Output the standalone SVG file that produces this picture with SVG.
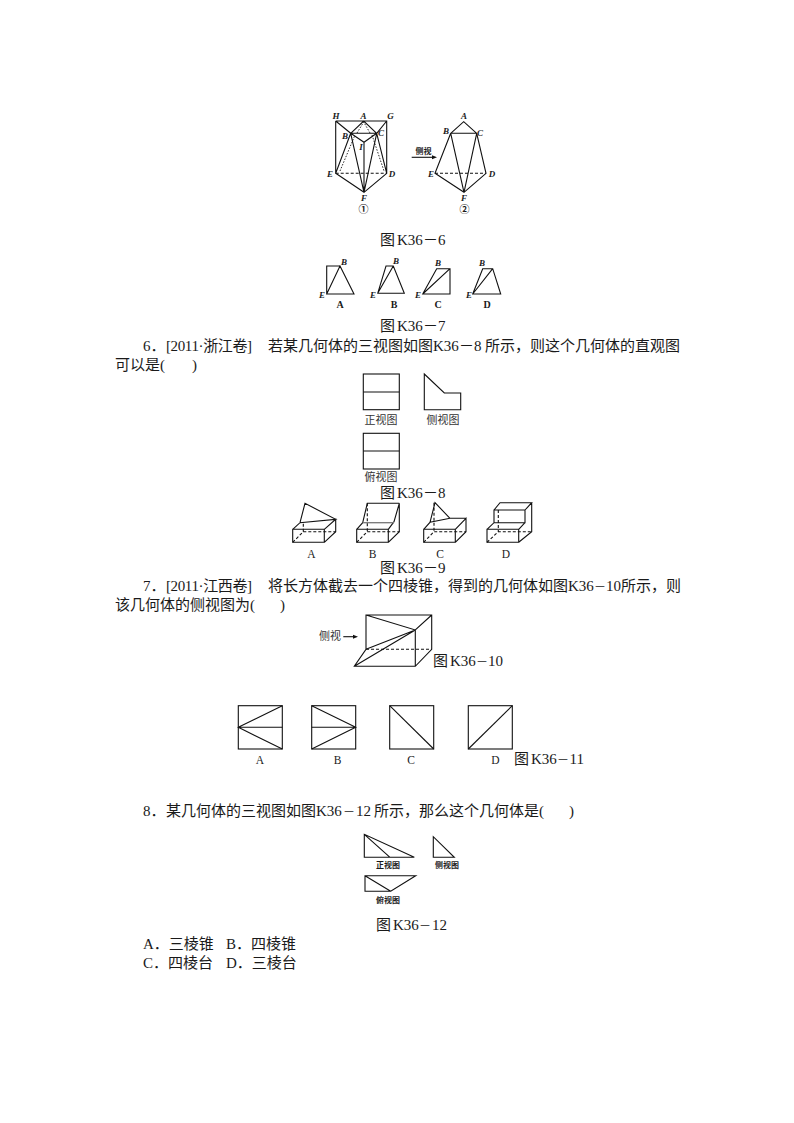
<svg xmlns="http://www.w3.org/2000/svg" width="794" height="1123" viewBox="0 0 794 1123">
<style>
text{font-family:"Liberation Serif","Noto Sans CJK SC",serif;fill:#1a1a1a}
.t{font-size:15px}
.m{font-size:12px}
.c{font-size:11px;fill:#333}
.s{font-size:9px;font-weight:bold;font-style:italic}
.b{font-size:8px;font-weight:bold}
.g{font-size:10px;font-weight:bold}
.l{font-size:11.5px}
path,line,rect,polygon{fill:none;stroke:#111;stroke-width:1.1}
.d{stroke-dasharray:3 2}
.o{stroke-dasharray:1.5 1.5;stroke-width:.9}
.h{stroke:#777;stroke-width:1.3}
.a{fill:#111;stroke:none}
</style>
<g id="fig-k36-6">
<path d="M335.7 121H386.7V173.3M335.7 173.3V121M335.7 121L350.7 133.3M386.7 121L376.7 133.3M350.7 133.3H376.7M350.7 133.3L364 142.3L376.7 133.3M364 142.3V192.3M350.7 133.3L364 192.3L376.7 133.3M350.7 133.3L335.7 173.3L364 192.3L386.7 173.3L376.7 133.3M350.7 133.3L363.7 121L376.7 133.3"/>
<path class="o" d="M357 133L363.7 122L370 133M372 135L384 171M340 171L355 135"/>
<path class="d" d="M335.7 173.3H386.7"/>
<path d="M450.7 133.3L463.7 121.7L476.7 133.3M450.7 133.3H476.7M450.7 133.3L435 173.3L464 192.3L486 173.3L476.7 133.3M450.7 133.3L464 192.3L476.7 133.3"/>
<path class="d" d="M435 173.3H486"/>
<path d="M411.7 157.3H433"/><polygon class="a" points="437,157.3 432,155.3 432,159.3"/>
<text class="s" x="336" y="119" text-anchor="middle">H</text><text class="s" x="363.5" y="119" text-anchor="middle">A</text><text class="s" x="390.5" y="119" text-anchor="middle">G</text>
<text class="s" x="345" y="139" text-anchor="middle">B</text><text class="s" x="381" y="136" text-anchor="middle">C</text><text class="s" x="361" y="150" text-anchor="middle">I</text>
<text class="s" x="330" y="177" text-anchor="middle">E</text><text class="s" x="392" y="177" text-anchor="middle">D</text><text class="s" x="364" y="201" text-anchor="middle">F</text>
<text class="g" x="363.5" y="213" text-anchor="middle">①</text>
<text class="s" x="464" y="119" text-anchor="middle">A</text><text class="s" x="446" y="134" text-anchor="middle">B</text><text class="s" x="480" y="136" text-anchor="middle">C</text>
<text class="s" x="431" y="177" text-anchor="middle">E</text><text class="s" x="492" y="177" text-anchor="middle">D</text><text class="s" x="464" y="201" text-anchor="middle">F</text>
<text class="g" x="464.5" y="213" text-anchor="middle">②</text>
<text class="b" x="423.5" y="154" text-anchor="middle">侧视</text>
<text class="t" x="380" y="245">图<tspan x="397">K36</tspan><tspan x="423">－</tspan><tspan x="438">6</tspan></text>
</g>
<g id="fig-k36-7">
<path d="M326.7 294V266H340M326.7 294L340 266L354 294ZM377.7 293.3L386 266H393.3L404.3 293.3ZM377.7 293.3L393.3 266M422.7 294L436.7 268.7H450V294ZM422.7 294L450 268.7M472.7 294L482.7 268.7H492.7L500.7 294ZM472.7 294L492.7 268.7"/>
<text class="s" x="341" y="265">B</text><text class="s" x="322" y="298" text-anchor="middle">E</text><text class="g" x="340" y="308" text-anchor="middle">A</text>
<text class="s" x="393" y="264">B</text><text class="s" x="373" y="298" text-anchor="middle">E</text><text class="g" x="394" y="308" text-anchor="middle">B</text>
<text class="s" x="438" y="266" text-anchor="middle">B</text><text class="s" x="418" y="298" text-anchor="middle">E</text><text class="g" x="438" y="308" text-anchor="middle">C</text>
<text class="s" x="479" y="266">B</text><text class="s" x="469" y="298" text-anchor="middle">E</text><text class="g" x="487" y="308" text-anchor="middle">D</text>
<text class="t" x="380" y="331">图<tspan x="397">K36</tspan><tspan x="423">－</tspan><tspan x="438">7</tspan></text>
</g>
<g id="question-6">
<text class="t" x="143" y="351">6．<tspan x="166" textLength="86" lengthAdjust="spacing">[2011·浙江卷]</tspan><tspan x="268">若某几何体的三视图如图</tspan><tspan x="433">K36</tspan><tspan x="459">－</tspan><tspan x="474">8</tspan><tspan x="485">所示，则这个几何体的直观图</tspan></text>
<text class="t" x="115" y="370">可以是(<tspan x="192">)</tspan></text>
</g>
<g id="fig-k36-8">
<rect x="363.3" y="374" width="36" height="35.7"/><line x1="363.3" y1="392" x2="399.3" y2="392"/>
<path d="M424.3 374L444.3 393H460.7V409.7H424.3Z"/>
<rect x="363.3" y="433.3" width="36" height="35.7"/><line x1="363.3" y1="451" x2="399.3" y2="451"/>
<text class="c" x="381" y="424" text-anchor="middle">正视图</text>
<text class="c" x="443" y="424" text-anchor="middle">侧视图</text>
<text class="c" x="381" y="481" text-anchor="middle">俯视图</text>
<text class="t" x="380" y="498">图<tspan x="397">K36</tspan><tspan x="423">－</tspan><tspan x="438">8</tspan></text>
</g>
<g id="fig-k36-9">
<path d="M292.7 529.3H324.3V542.3H292.7ZM324.3 529.3L335.7 519.3V531.7L324.3 542.3M292.7 529.3L300 522.7L335.7 519.3L305 503.3L300 522.7"/>
<path class="d" d="M292.7 542.3L303.3 531.7H335.7M303.3 531.7V522"/>
<path d="M356.7 529.3H388.3V542.3H356.7ZM388.3 542.3L399.3 531.7V503.3L394 521.7L388.3 529.3M356.7 529.3L362.7 522.7L367.3 503.3H399.3"/>
<path class="h" d="M362.7 522.7H394"/>
<path class="d" d="M356.7 542.3L367.3 531.7H399.3M367.3 503.3V531.7"/>
<path d="M423.7 529.3H455.3V542.3H423.7ZM455.3 529.3L466 518.3V531.7L455.3 542.3M423.7 529.3L430 522.3L450 518.3H466M430 522.3L435 502.7L450 518.3"/>
<path class="d" d="M423.7 542.3L434 531.7H466M434 502.7V531.7"/>
<path d="M487 529.3H518.7V542.3H487ZM487 529.3L494 522.7H525V510H494V522.7M494 510L500 502.7H531.7L525 510M518.7 529.3L525 522.7M531.7 502.7V531.7L518.7 542.3"/>
<path class="d" d="M487 542.3L498.3 531.7H531.7M498.3 510V531.7"/>
<text class="l" x="311.5" y="558" text-anchor="middle">A</text>
<text class="l" x="372.5" y="558" text-anchor="middle">B</text>
<text class="l" x="440" y="558" text-anchor="middle">C</text>
<text class="l" x="506" y="558" text-anchor="middle">D</text>
<text class="t" x="380" y="573">图<tspan x="397">K36</tspan><tspan x="423">－</tspan><tspan x="438">9</tspan></text>
</g>
<g id="question-7">
<text class="t" x="143" y="591">7．<tspan x="166" textLength="86" lengthAdjust="spacing">[2011·江西卷]</tspan><tspan x="268">将长方体截去一个四棱锥，得到的几何体如图</tspan><tspan x="568">K36</tspan><tspan class="m" x="594">－</tspan><tspan x="606">10</tspan><tspan x="621">所示，则</tspan></text>
<text class="t" x="115" y="610">该几何体的侧视图为(<tspan x="280">)</tspan></text>
</g>
<g id="fig-k36-10">
<path d="M366 615H431.7V649.3L415.3 666.3H354.3L366 649.3ZM366 615L415.3 630L431.7 615M415.3 630V666.3M354.3 666.3L415.3 630L366 649.3"/>
<path class="d" d="M366 649.3H431.7"/>
<path d="M343.3 636.7H355"/><polygon class="a" points="358,636.7 353,634.7 353,638.7"/>
<text class="c" x="330" y="640" text-anchor="middle">侧视</text>
<text class="t" x="433" y="666">图<tspan x="450">K36</tspan><tspan class="m" x="476">－</tspan><tspan x="488">10</tspan></text>
</g>
<g id="fig-k36-11">
<rect x="238.3" y="705.7" width="44" height="43.3"/><path d="M282.3 705.7L238.3 727.3L282.3 749M238.3 727.3H282.3"/>
<rect x="311.7" y="705.7" width="44" height="43.3"/><path d="M311.7 705.7L355.7 727.3L311.7 749M311.7 727.3H355.7"/>
<rect x="389.7" y="705.7" width="44" height="43.3"/><path d="M389.7 705.7L433.7 749"/>
<rect x="468.3" y="705.7" width="44" height="43.3"/><path d="M468.3 749L512.3 705.7"/>
<text class="l" x="260" y="764" text-anchor="middle">A</text>
<text class="l" x="337.5" y="764" text-anchor="middle">B</text>
<text class="l" x="411" y="764" text-anchor="middle">C</text>
<text class="l" x="495.5" y="764" text-anchor="middle">D</text>
<text class="t" x="514" y="764">图<tspan x="531">K36</tspan><tspan class="m" x="557">－</tspan><tspan x="569.5">11</tspan></text>
</g>
<g id="question-8">
<text class="t" x="143" y="816">8．<tspan x="166">某几何体的三视图如图</tspan><tspan x="316">K36</tspan><tspan class="m" x="343">－</tspan><tspan x="356">12</tspan><tspan x="374">所示，那么这个几何体是(</tspan><tspan x="569">)</tspan></text>
</g>
<g id="fig-k36-12">
<path d="M364.3 834.3V857.3H414.3ZM364.3 834.3L390 857.3M433.3 836.7V857.3H454.3ZM365 875.7H415.7L390.7 891.3H365ZM365 875.7L390.7 891.3"/>
<text class="b" x="388" y="868" text-anchor="middle">正视图</text>
<text class="b" x="447" y="868" text-anchor="middle">侧视图</text>
<text class="b" x="388" y="903" text-anchor="middle">俯视图</text>
<text class="t" x="376" y="930">图<tspan x="393">K36</tspan><tspan class="m" x="419">－</tspan><tspan x="432">12</tspan></text>
</g>
<g id="options-8">
<text class="t" x="143" y="949">A．三棱锥<tspan x="226">B．四棱锥</tspan></text>
<text class="t" x="143" y="968">C．四棱台<tspan x="226">D．三棱台</tspan></text>
</g>
</svg>
